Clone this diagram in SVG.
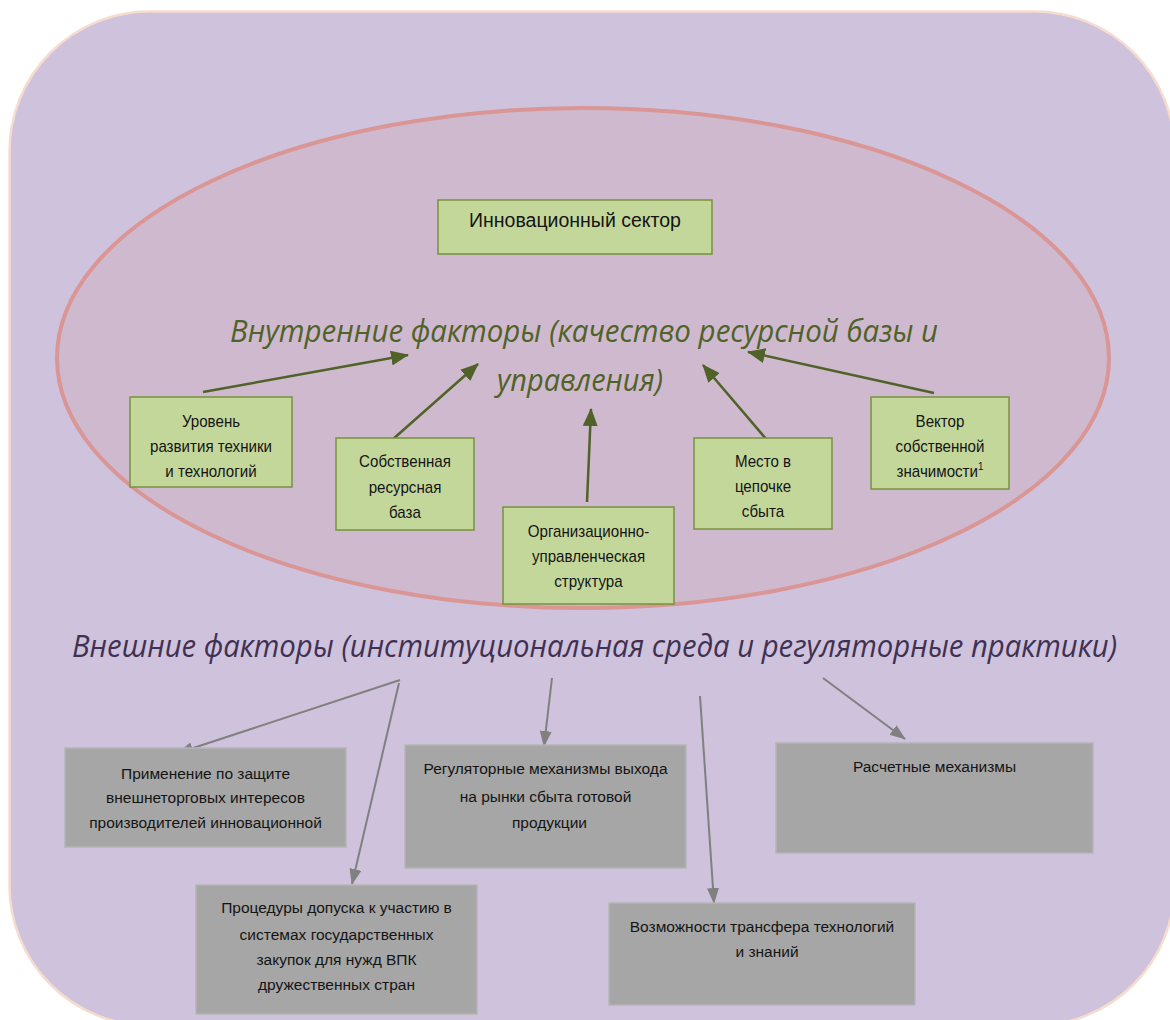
<svg xmlns="http://www.w3.org/2000/svg" width="1170" height="1020" viewBox="0 0 1170 1020">
<defs>
<style>
.bg{fill:#CFC2DC;stroke:#F6DCCF;stroke-width:2.5}
.ell{fill:#CFB9CE;stroke:#D99694;stroke-width:4}
.gbox{fill:#C4D79B;stroke:#77933C;stroke-width:1.5}
.xbox{fill:#A6A6A6;stroke:#B5B5B5;stroke-width:1.5}
.t{font-family:"Liberation Sans",Arial,sans-serif;font-size:15.5px;fill:#141414;text-anchor:middle}
.tg{font-size:17px}
.tb{font-size:19.5px}
.ti{font-family:"Open Sans","Noto Sans","Liberation Sans",sans-serif;font-style:italic;font-size:31px}
.gl{stroke:#4F6228;stroke-width:2.5;fill:none}
.xl{stroke:#808080;stroke-width:2;fill:none}
</style>
<marker id="ag" markerUnits="userSpaceOnUse" markerWidth="18" markerHeight="15" refX="17" refY="7.5" orient="auto">
<path d="M0,0 L18,7.5 L0,15 z" fill="#4F6228"/>
</marker>
<marker id="ax" markerUnits="userSpaceOnUse" markerWidth="16" markerHeight="13" refX="15" refY="6" orient="auto">
<path d="M0,0 L16,6 L0,12 z" fill="#808080"/>
</marker>
</defs>

<rect class="bg" x="9.5" y="11.5" width="1165" height="1014" rx="140" ry="140"/>
<ellipse class="ell" cx="583" cy="358" rx="526" ry="250"/>

<g id="title-internal">
<text class="ti" x="584" y="342" fill="#4F6228" text-anchor="middle" textLength="708" lengthAdjust="spacingAndGlyphs">Внутренние факторы (качество ресурсной базы и</text>
<text class="ti" x="580" y="391" fill="#4F6228" text-anchor="middle" textLength="166" lengthAdjust="spacingAndGlyphs">управления)</text>
</g>

<g id="title-external">
<text class="ti" x="72" y="657" fill="#403152" font-size="32" textLength="1045" lengthAdjust="spacingAndGlyphs">Внешние факторы (институциональная среда и регуляторные практики)</text>
</g>

<g id="connectors">
<line class="gl" x1="203" y1="392" x2="408" y2="355" marker-end="url(#ag)"/>
<line class="gl" x1="392" y1="440" x2="478" y2="364" marker-end="url(#ag)"/>
<line class="gl" x1="587" y1="502" x2="591" y2="409" marker-end="url(#ag)"/>
<line class="gl" x1="767" y1="440" x2="703" y2="365" marker-end="url(#ag)"/>
<line class="gl" x1="934" y1="393" x2="748" y2="352" marker-end="url(#ag)"/>
<line class="xl" x1="400" y1="680" x2="178" y2="753" marker-end="url(#ax)"/>
<line class="xl" x1="399" y1="683" x2="352" y2="884" marker-end="url(#ax)"/>
<line class="xl" x1="552" y1="678" x2="544" y2="746" marker-end="url(#ax)"/>
<line class="xl" x1="700" y1="696" x2="714" y2="903" marker-end="url(#ax)"/>
<line class="xl" x1="823" y1="678" x2="905" y2="739" marker-end="url(#ax)"/>
</g>

<g id="innovation-sector">
<rect class="gbox" x="438" y="200" width="274" height="54"/>
<text class="t tb" x="575" y="227">Инновационный сектор</text>
</g>

<g id="tech-level">
<rect class="gbox" x="130" y="397" width="162" height="90"/>
<g transform="translate(211 0) scale(0.89 1)">
<text class="t tg" x="0" y="427">Уровень</text>
<text class="t tg" x="0" y="452">развития техники</text>
<text class="t tg" x="0" y="477">и технологий</text>
</g>
</g>

<g id="resource-base">
<rect class="gbox" x="336" y="438" width="138" height="92"/>
<g transform="translate(405 0) scale(0.89 1)">
<text class="t tg" x="0" y="467">Собственная</text>
<text class="t tg" x="0" y="493">ресурсная</text>
<text class="t tg" x="0" y="518">база</text>
</g>
</g>

<g id="org-structure">
<rect class="gbox" x="503" y="507" width="171" height="97"/>
<g transform="translate(588.5 0) scale(0.89 1)">
<text class="t tg" x="0" y="537">Организационно-</text>
<text class="t tg" x="0" y="562">управленческая</text>
<text class="t tg" x="0" y="587">структура</text>
</g>
</g>

<g id="supply-chain">
<rect class="gbox" x="694" y="438" width="138" height="91"/>
<g transform="translate(763 0) scale(0.89 1)">
<text class="t tg" x="0" y="467">Место в</text>
<text class="t tg" x="0" y="492">цепочке</text>
<text class="t tg" x="0" y="517">сбыта</text>
</g>
</g>

<g id="significance-vector">
<rect class="gbox" x="871" y="397" width="138" height="92"/>
<g transform="translate(940 0) scale(0.89 1)">
<text class="t tg" x="0" y="427">Вектор</text>
<text class="t tg" x="0" y="452">собственной</text>
<text class="t tg" x="0" y="477">значимости<tspan font-size="11" dy="-7">1</tspan></text>
</g>
</g>

<g id="trade-protection">
<rect class="xbox" x="65" y="748" width="281" height="99"/>
<text class="t" x="205.5" y="779">Применение по защите</text>
<text class="t" x="205.5" y="803">внешнеторговых интересов</text>
<text class="t" x="205.5" y="828">производителей инновационной</text>
</g>

<g id="market-access">
<rect class="xbox" x="405" y="745" width="281" height="123"/>
<text class="t" x="545.5" y="774">Регуляторные механизмы выхода</text>
<text class="t" x="545.5" y="802">на рынки сбыта готовой</text>
<text class="t" x="549.5" y="828">продукции</text>
</g>

<g id="settlement">
<rect class="xbox" x="776" y="743" width="317" height="110"/>
<text class="t" x="934.5" y="772">Расчетные механизмы</text>
</g>

<g id="procurement">
<rect class="xbox" x="196" y="885" width="281" height="129"/>
<text class="t" x="336.5" y="913">Процедуры допуска к участию в</text>
<text class="t" x="336.5" y="940">системах государственных</text>
<text class="t" x="336.5" y="965">закупок для нужд ВПК</text>
<text class="t" x="336.5" y="990">дружественных стран</text>
</g>

<g id="tech-transfer">
<rect class="xbox" x="609" y="903" width="306" height="102"/>
<text class="t" x="762" y="932">Возможности трансфера технологий</text>
<text class="t" x="767" y="957">и знаний</text>
</g>
</svg>
